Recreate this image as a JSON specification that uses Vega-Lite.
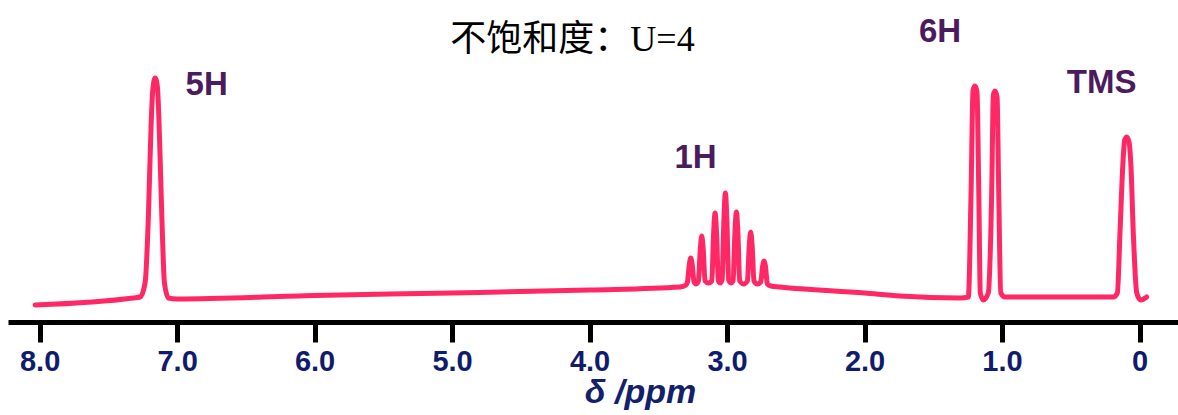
{
  "$schema": "https://vega.github.io/schema/vega-lite/v6.json",
  "width": 1170,
  "height": 322,
  "autosize": {"type": "none"},
  "padding": {"left": 8, "top": 0, "right": 0, "bottom": 93},
  "background": "white",
  "config": {"view": {"stroke": null}},
  "datasets": {
    "spectrum": [
      {"ppm": 8.033, "I": 17}, {"ppm": 7.32, "I": 24}, {"ppm": 7.269, "I": 25},
      {"ppm": 7.233, "I": 39}, {"ppm": 7.209, "I": 105}, {"ppm": 7.191, "I": 189}, {"ppm": 7.177, "I": 232},
      {"ppm": 7.16, "I": 244}, {"ppm": 7.143, "I": 235}, {"ppm": 7.129, "I": 189}, {"ppm": 7.111, "I": 105},
      {"ppm": 7.092, "I": 39}, {"ppm": 7.063, "I": 24}, {"ppm": 7.002, "I": 23},
      {"ppm": 6.0, "I": 26.5}, {"ppm": 5.0, "I": 29}, {"ppm": 4.0, "I": 32}, {"ppm": 3.342, "I": 35},
      {"ppm": 3.298, "I": 37}, {"ppm": 3.288, "I": 40}, {"ppm": 3.275, "I": 57}, {"ppm": 3.264, "I": 64},
      {"ppm": 3.253, "I": 57}, {"ppm": 3.24, "I": 40}, {"ppm": 3.224, "I": 38},
      {"ppm": 3.208, "I": 41}, {"ppm": 3.195, "I": 72}, {"ppm": 3.184, "I": 86}, {"ppm": 3.173, "I": 72},
      {"ppm": 3.16, "I": 41}, {"ppm": 3.136, "I": 39},
      {"ppm": 3.111, "I": 41}, {"ppm": 3.098, "I": 88}, {"ppm": 3.087, "I": 109}, {"ppm": 3.076, "I": 88},
      {"ppm": 3.063, "I": 41}, {"ppm": 3.05, "I": 39},
      {"ppm": 3.036, "I": 42}, {"ppm": 3.023, "I": 102}, {"ppm": 3.012, "I": 129}, {"ppm": 3.001, "I": 102},
      {"ppm": 2.988, "I": 42}, {"ppm": 2.972, "I": 39},
      {"ppm": 2.956, "I": 41}, {"ppm": 2.943, "I": 89}, {"ppm": 2.932, "I": 110}, {"ppm": 2.921, "I": 89},
      {"ppm": 2.908, "I": 41}, {"ppm": 2.88, "I": 38},
      {"ppm": 2.852, "I": 41}, {"ppm": 2.839, "I": 75}, {"ppm": 2.828, "I": 90}, {"ppm": 2.817, "I": 75},
      {"ppm": 2.804, "I": 41}, {"ppm": 2.78, "I": 38},
      {"ppm": 2.755, "I": 40}, {"ppm": 2.742, "I": 55}, {"ppm": 2.731, "I": 61}, {"ppm": 2.72, "I": 55},
      {"ppm": 2.707, "I": 38}, {"ppm": 2.68, "I": 36},
      {"ppm": 2.615, "I": 35}, {"ppm": 2.0, "I": 29}, {"ppm": 1.742, "I": 26}, {"ppm": 1.305, "I": 24},
      {"ppm": 1.245, "I": 25}, {"ppm": 1.225, "I": 130}, {"ppm": 1.211, "I": 232}, {"ppm": 1.196, "I": 236},
      {"ppm": 1.182, "I": 230}, {"ppm": 1.169, "I": 130}, {"ppm": 1.158, "I": 29}, {"ppm": 1.136, "I": 22},
      {"ppm": 1.1, "I": 29}, {"ppm": 1.075, "I": 130}, {"ppm": 1.063, "I": 227}, {"ppm": 1.051, "I": 231},
      {"ppm": 1.036, "I": 225}, {"ppm": 1.024, "I": 130}, {"ppm": 1.009, "I": 29}, {"ppm": 0.978, "I": 25},
      {"ppm": 0.651, "I": 25}, {"ppm": 0.191, "I": 25},
      {"ppm": 0.161, "I": 29}, {"ppm": 0.142, "I": 89}, {"ppm": 0.122, "I": 155}, {"ppm": 0.108, "I": 182},
      {"ppm": 0.093, "I": 185}, {"ppm": 0.076, "I": 180}, {"ppm": 0.062, "I": 155}, {"ppm": 0.045, "I": 89},
      {"ppm": 0.02, "I": 29}, {"ppm": -0.009, "I": 22}, {"ppm": -0.052, "I": 25}
    ],
    "labels": [
      {"ppm": 6.785, "I": 227, "label": "5H"},
      {"ppm": 3.229, "I": 154, "label": "1H"},
      {"ppm": 1.451, "I": 280, "label": "6H"},
      {"ppm": 0.276, "I": 229, "label": "TMS"}
    ],
    "title": [
      {"ppm": 4.124, "I": 271, "label": "不饱和度：U=4"}
    ]
  },
  "encoding": {
    "x": {
      "field": "ppm",
      "type": "quantitative",
      "scale": {"domain": [-0.28, 8.23], "reverse": true, "nice": false, "zero": false},
      "axis": {
        "values": [0, 1, 2, 3, 4, 5, 6, 7, 8],
        "labelExpr": "datum.value == 0 ? '0' : format(datum.value, '.1f')",
        "grid": false,
        "domainColor": "black",
        "domainWidth": 5,
        "tickColor": "black",
        "tickWidth": 5,
        "tickSize": 20,
        "labelPadding": 5,
        "labelFont": "Liberation Sans",
        "labelFontWeight": "bold",
        "labelFontSize": 29,
        "labelColor": "#101c6b",
        "labelFlush": false,
        "labelOverlap": false,
        "title": "δ /ppm",
        "titleFont": "Liberation Sans",
        "titleFontStyle": "italic",
        "titleFontWeight": "bold",
        "titleFontSize": 34,
        "titleColor": "#13206b",
        "titleAlign": "center",
        "titleBaseline": "alphabetic",
        "titleX": 632,
        "titleY": 80
      }
    },
    "y": {
      "field": "I",
      "type": "quantitative",
      "scale": {"domain": [0, 322], "nice": false, "zero": false},
      "axis": null
    }
  },
  "layer": [
    {
      "data": {"name": "spectrum"},
      "mark": {"type": "line", "color": "#ff2864", "strokeWidth": 5, "interpolate": "monotone", "strokeJoin": "round", "strokeCap": "round"},
      "encoding": {"order": {"field": "ppm", "type": "quantitative", "sort": "descending"}}
    },
    {
      "data": {"name": "labels"},
      "mark": {"type": "text", "font": "Liberation Sans", "fontWeight": "bold", "fontSize": 33, "color": "#4b1b5e", "align": "center", "baseline": "alphabetic"},
      "encoding": {"text": {"field": "label"}}
    },
    {
      "data": {"name": "title"},
      "mark": {"type": "text", "font": "Liberation Serif, Noto Sans CJK SC", "fontSize": 36, "color": "black", "align": "center", "baseline": "alphabetic"},
      "encoding": {"text": {"field": "label"}}
    }
  ]
}
